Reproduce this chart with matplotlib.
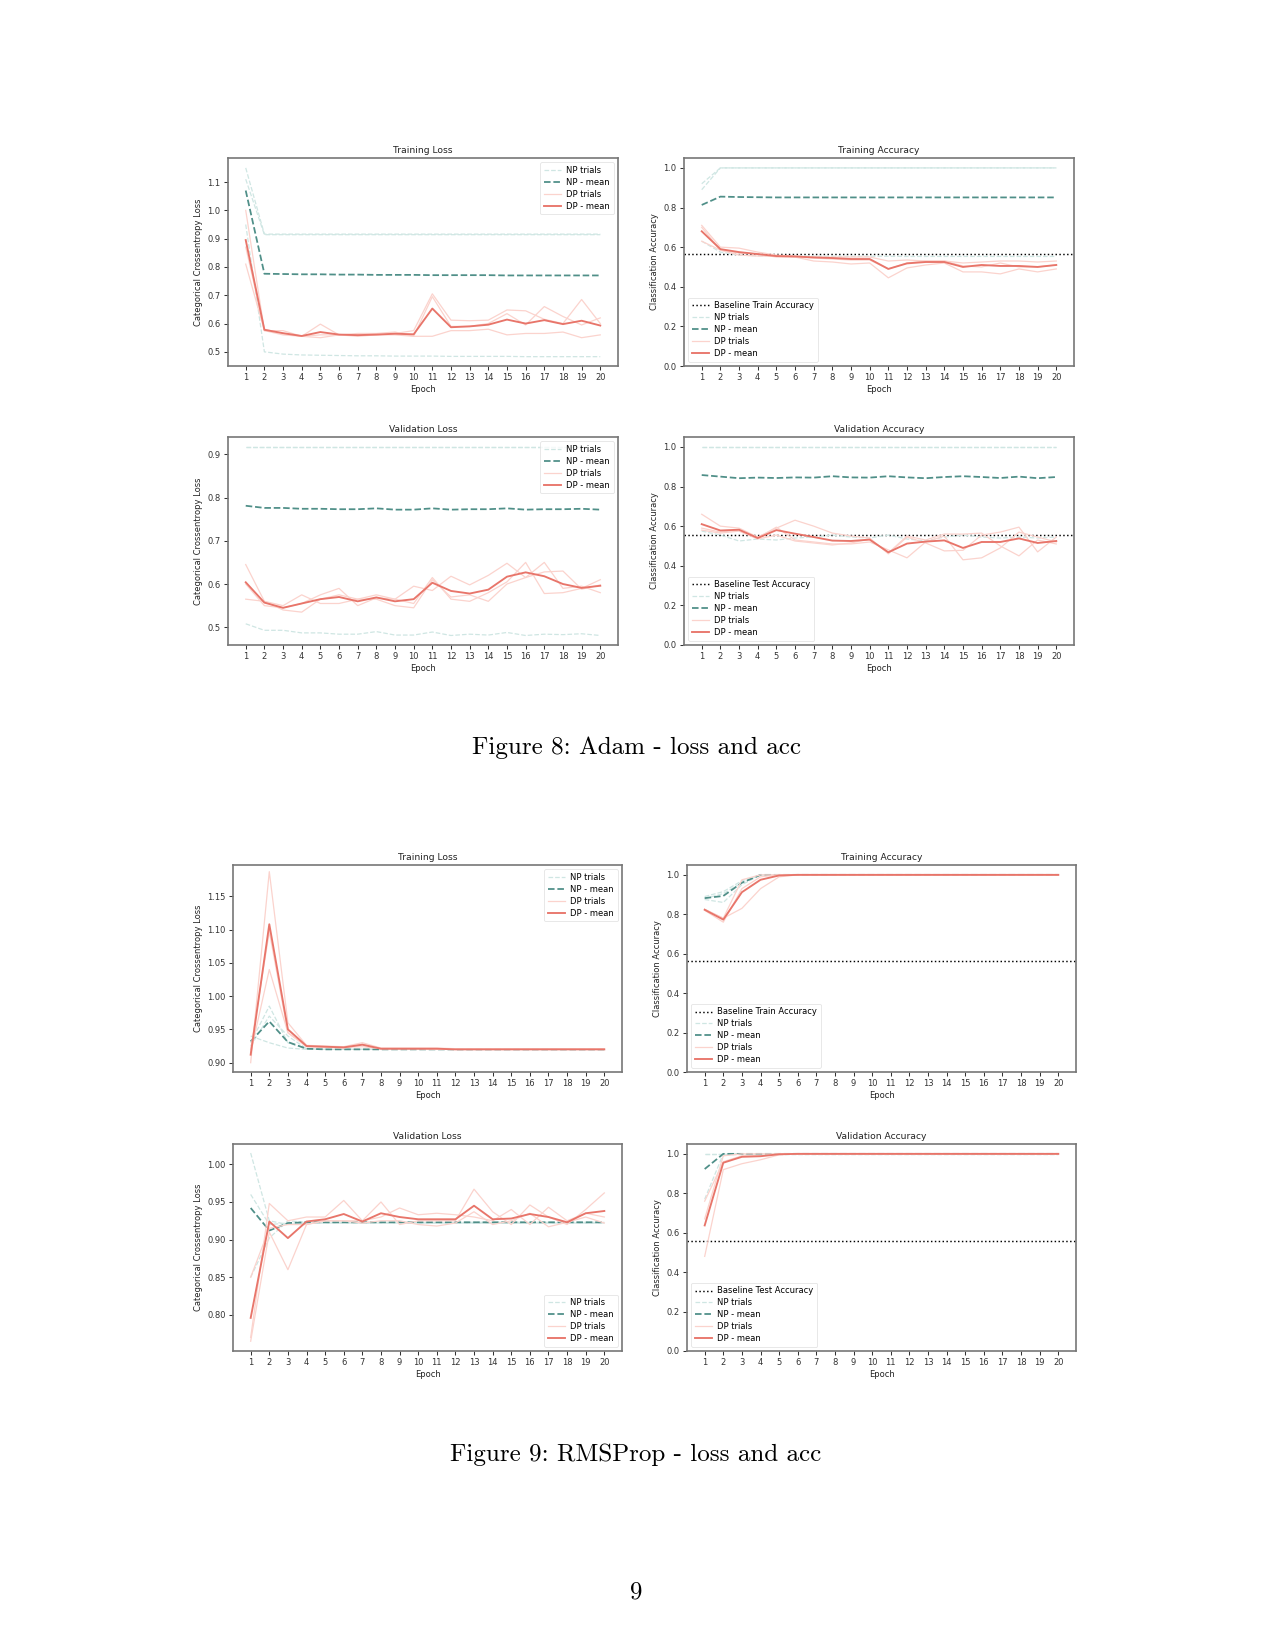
import numpy as np
import matplotlib
matplotlib.use('Agg')
import matplotlib.pyplot as plt

# Paleta
NP_TRIAL = '#cfe6e3'
NP_MEAN = '#4f8f88'
DP_TRIAL = '#fbd3cd'
DP_MEAN = '#e8756a'

epochs = list(range(1, 21))

# ---------------- Figure 8 (Adam) ----------------
adam_train_loss_np = [
    [1.15] + [0.916] * 19,
    [1.11] + [0.914] * 19,
    [0.95, 0.500, 0.492, 0.489, 0.488, 0.487, 0.486, 0.486, 0.485, 0.485,
     0.485, 0.484, 0.484, 0.484, 0.484, 0.483, 0.483, 0.483, 0.483, 0.483],
]
adam_train_loss_np_mean = [1.07, 0.776, 0.775, 0.774, 0.774, 0.773, 0.773, 0.772, 0.772, 0.772,
                           0.771, 0.771, 0.771, 0.771, 0.770, 0.770, 0.770, 0.770, 0.770, 0.770]
adam_train_loss_dp = [
    [1.00, 0.575, 0.575, 0.555, 0.598, 0.560, 0.555, 0.560, 0.565, 0.575,
     0.705, 0.612, 0.610, 0.612, 0.648, 0.645, 0.615, 0.600, 0.685, 0.600],
    [0.87, 0.580, 0.565, 0.555, 0.560, 0.560, 0.565, 0.565, 0.570, 0.555,
     0.695, 0.590, 0.590, 0.600, 0.635, 0.595, 0.660, 0.625, 0.595, 0.620],
    [0.81, 0.575, 0.560, 0.555, 0.550, 0.560, 0.560, 0.560, 0.560, 0.555,
     0.555, 0.575, 0.575, 0.580, 0.560, 0.565, 0.565, 0.570, 0.550, 0.560],
]
adam_train_loss_dp_mean = [0.895, 0.578, 0.566, 0.556, 0.570, 0.561, 0.559, 0.561, 0.564, 0.562,
                           0.653, 0.587, 0.590, 0.596, 0.614, 0.600, 0.612, 0.598, 0.610, 0.593]

adam_train_acc_np = [
    [0.89] + [1.0] * 19,
    [0.92] + [1.0] * 19,
    [0.63, 0.575, 0.560, 0.556, 0.555, 0.555, 0.554, 0.554, 0.554, 0.554,
     0.554, 0.553, 0.553, 0.553, 0.553, 0.553, 0.553, 0.553, 0.553, 0.553],
]
adam_train_acc_np_mean = [0.813, 0.855, 0.853, 0.852, 0.851, 0.851, 0.851, 0.851, 0.851, 0.851,
                          0.851, 0.851, 0.851, 0.851, 0.851, 0.851, 0.851, 0.851, 0.851, 0.851]
adam_train_acc_dp = [
    [0.71, 0.600, 0.595, 0.575, 0.560, 0.555, 0.550, 0.550, 0.550, 0.550,
     0.530, 0.535, 0.530, 0.530, 0.520, 0.525, 0.530, 0.530, 0.525, 0.530],
    [0.70, 0.585, 0.570, 0.565, 0.550, 0.550, 0.545, 0.540, 0.535, 0.535,
     0.490, 0.520, 0.530, 0.530, 0.505, 0.500, 0.520, 0.500, 0.500, 0.510],
    [0.63, 0.585, 0.560, 0.555, 0.555, 0.550, 0.530, 0.525, 0.515, 0.520,
     0.445, 0.495, 0.510, 0.520, 0.475, 0.475, 0.465, 0.490, 0.475, 0.490],
]
adam_train_acc_dp_mean = [0.680, 0.590, 0.575, 0.565, 0.555, 0.553, 0.548, 0.545, 0.540, 0.540,
                          0.490, 0.518, 0.525, 0.525, 0.500, 0.510, 0.505, 0.505, 0.500, 0.510]

adam_val_loss_np = [
    [0.918] * 20,
    [0.917] * 20,
    [0.508, 0.493, 0.493, 0.487, 0.487, 0.484, 0.484, 0.490, 0.482, 0.482,
     0.489, 0.481, 0.484, 0.482, 0.488, 0.481, 0.484, 0.483, 0.485, 0.481],
]
adam_val_loss_np_mean = [0.781, 0.776, 0.776, 0.774, 0.774, 0.773, 0.773, 0.775, 0.772, 0.772,
                         0.775, 0.772, 0.773, 0.773, 0.775, 0.772, 0.773, 0.773, 0.774, 0.772]
adam_val_loss_dp = [
    [0.645, 0.560, 0.540, 0.535, 0.565, 0.575, 0.565, 0.575, 0.565, 0.555,
     0.615, 0.565, 0.560, 0.580, 0.605, 0.650, 0.578, 0.580, 0.590, 0.610],
    [0.565, 0.560, 0.550, 0.575, 0.555, 0.555, 0.565, 0.565, 0.550, 0.545,
     0.610, 0.570, 0.575, 0.560, 0.600, 0.615, 0.650, 0.590, 0.595, 0.580],
    [0.600, 0.550, 0.545, 0.555, 0.575, 0.590, 0.550, 0.568, 0.565, 0.595,
     0.585, 0.618, 0.598, 0.620, 0.648, 0.615, 0.628, 0.630, 0.588, 0.598],
]
adam_val_loss_dp_mean = [0.604, 0.557, 0.545, 0.555, 0.565, 0.570, 0.560, 0.569, 0.560, 0.565,
                         0.603, 0.584, 0.578, 0.587, 0.617, 0.627, 0.618, 0.600, 0.591, 0.596]

adam_val_acc_np = [
    [1.0] * 20,
    [1.0] * 20,
    [0.575, 0.555, 0.525, 0.535, 0.530, 0.540, 0.545, 0.555, 0.545, 0.540,
     0.555, 0.535, 0.525, 0.545, 0.555, 0.545, 0.540, 0.545, 0.540, 0.545],
]
adam_val_acc_np_mean = [0.858, 0.850, 0.842, 0.845, 0.843, 0.846, 0.845, 0.852, 0.846, 0.845,
                        0.852, 0.846, 0.842, 0.848, 0.852, 0.848, 0.843, 0.850, 0.842, 0.848]
adam_val_acc_dp = [
    [0.660, 0.600, 0.590, 0.545, 0.590, 0.630, 0.600, 0.565, 0.550, 0.540,
     0.460, 0.545, 0.515, 0.475, 0.478, 0.555, 0.570, 0.595, 0.470, 0.545],
    [0.590, 0.570, 0.580, 0.540, 0.595, 0.530, 0.520, 0.510, 0.510, 0.520,
     0.480, 0.440, 0.520, 0.550, 0.430, 0.440, 0.490, 0.570, 0.545, 0.520],
    [0.580, 0.565, 0.575, 0.535, 0.555, 0.525, 0.515, 0.505, 0.515, 0.535,
     0.465, 0.550, 0.530, 0.560, 0.560, 0.565, 0.500, 0.450, 0.530, 0.510],
]
adam_val_acc_dp_mean = [0.610, 0.578, 0.582, 0.540, 0.580, 0.562, 0.545, 0.527, 0.525, 0.532,
                        0.468, 0.512, 0.522, 0.528, 0.490, 0.520, 0.520, 0.538, 0.515, 0.525]

# ---------------- Figure 9 (RMSProp) ----------------
rms_train_loss_np = [
    [0.940, 0.930, 0.922, 0.920] + [0.920] * 16,
    [0.930, 0.985, 0.930, 0.921] + [0.920] * 16,
    [0.925, 0.970, 0.940, 0.921] + [0.920] * 16,
]
rms_train_loss_np_mean = [0.932, 0.962, 0.931, 0.921] + [0.920] * 16
rms_train_loss_dp = [
    [0.900, 1.187, 0.960, 0.926, 0.925, 0.924, 0.930, 0.922, 0.922, 0.922,
     0.922, 0.921, 0.921, 0.921, 0.921, 0.921, 0.921, 0.921, 0.921, 0.921],
    [0.915, 1.040, 0.945, 0.924, 0.923, 0.922, 0.928, 0.921, 0.921, 0.921,
     0.921, 0.920, 0.920, 0.920, 0.920, 0.920, 0.920, 0.920, 0.920, 0.920],
    [0.920, 1.097, 0.945, 0.925, 0.924, 0.923, 0.924, 0.921, 0.921, 0.921,
     0.920, 0.920, 0.920, 0.920, 0.920, 0.920, 0.920, 0.920, 0.920, 0.920],
]
rms_train_loss_dp_mean = [0.912, 1.108, 0.950, 0.925, 0.924, 0.923, 0.927, 0.921, 0.921, 0.921,
                          0.921, 0.920, 0.920, 0.920, 0.920, 0.920, 0.920, 0.920, 0.920, 0.920]

rms_train_acc_np = [
    [0.890, 0.915, 0.970] + [1.0] * 17,
    [0.875, 0.860, 0.950] + [1.0] * 17,
    [0.880, 0.905, 0.960] + [1.0] * 17,
]
rms_train_acc_np_mean = [0.882, 0.893, 0.960] + [1.0] * 17
rms_train_acc_dp = [
    [0.820, 0.760, 0.930, 0.990] + [1.0] * 16,
    [0.825, 0.780, 0.830, 0.930, 0.990] + [1.0] * 15,
    [0.825, 0.780, 0.975] + [1.0] * 17,
]
rms_train_acc_dp_mean = [0.823, 0.773, 0.912, 0.975, 0.997] + [1.0] * 15

rms_val_loss_np = [
    [1.015, 0.925, 0.920, 0.922] + [0.922] * 16,
    [0.960, 0.920, 0.922, 0.922] + [0.922] * 16,
    [0.850, 0.902, 0.925, 0.923] + [0.923] * 16,
]
rms_val_loss_np_mean = [0.942, 0.912, 0.922, 0.923] + [0.923] * 16
rms_val_loss_dp = [
    [0.770, 0.948, 0.925, 0.930, 0.930, 0.952, 0.925, 0.950, 0.920, 0.925,
     0.925, 0.925, 0.967, 0.937, 0.920, 0.946, 0.930, 0.920, 0.940, 0.962],
    [0.765, 0.910, 0.860, 0.920, 0.925, 0.925, 0.925, 0.930, 0.942, 0.933,
     0.935, 0.933, 0.930, 0.925, 0.940, 0.920, 0.943, 0.925, 0.935, 0.930],
    [0.850, 0.915, 0.920, 0.920, 0.925, 0.925, 0.922, 0.925, 0.925, 0.920,
     0.918, 0.922, 0.937, 0.920, 0.925, 0.935, 0.917, 0.923, 0.930, 0.922],
]
rms_val_loss_dp_mean = [0.796, 0.924, 0.902, 0.924, 0.927, 0.934, 0.924, 0.935, 0.930, 0.927,
                        0.927, 0.927, 0.945, 0.927, 0.928, 0.934, 0.930, 0.923, 0.935, 0.938]

rms_val_acc_np = [
    [1.0] * 20,
    [1.0] * 20,
    [0.770] + [1.0] * 19,
]
rms_val_acc_np_mean = [0.923] + [1.0] * 19
rms_val_acc_dp = [
    [0.760, 0.960, 0.990, 0.990] + [1.0] * 16,
    [0.480, 0.920, 0.950, 0.970, 0.995] + [1.0] * 15,
    [0.670, 0.990] + [1.0] * 18,
]
rms_val_acc_dp_mean = [0.637, 0.955, 0.985, 0.988, 0.998] + [1.0] * 15

baseline_train = 0.563
baseline_test = 0.556

W, H = 1275, 1650
fig = plt.figure(figsize=(W / 150, H / 150), dpi=150)
fig.patch.set_facecolor('white')

FS = 4.0


def box(x0, y0, x1, y1):
    return [x0 / W, 1 - y1 / H, (x1 - x0) / W, (y1 - y0) / H]


def panel(rect, title, ylabel, np_trials, np_mean, dp_trials, dp_mean,
          baseline=None, base_label=None, loc='upper right', ylim=None):
    ax = fig.add_axes(rect)
    if baseline is not None:
        ax.axhline(baseline, color='black', ls=':', lw=0.7, label=base_label)
    for i, t in enumerate(np_trials):
        ax.plot(epochs, t, color=NP_TRIAL, ls='--', lw=0.6,
                label='NP trials' if i == 0 else None)
    ax.plot(epochs, np_mean, color=NP_MEAN, ls='--', lw=0.85, label='NP - mean')
    for i, t in enumerate(dp_trials):
        ax.plot(epochs, t, color=DP_TRIAL, lw=0.6,
                label='DP trials' if i == 0 else None)
    ax.plot(epochs, dp_mean, color=DP_MEAN, lw=0.9, label='DP - mean')
    ax.set_xticks(epochs)
    ax.set_xlim(0.05, 20.95)
    if ylim is not None:
        ax.set_ylim(*ylim)
    ax.set_title(title, fontsize=4.4, pad=2.5, color='#222222')
    ax.set_xlabel('Epoch', fontsize=FS, labelpad=1.5, color='#222222')
    ax.set_ylabel(ylabel, fontsize=FS, labelpad=2, color='#222222')
    ax.tick_params(labelsize=FS, length=2, width=0.5, pad=1.5,
                   colors='#333333')
    for s in ax.spines.values():
        s.set_linewidth(0.8)
        s.set_color('#777777')
    leg = ax.legend(loc=loc, fontsize=FS, handlelength=2.0, handletextpad=0.7,
                    borderpad=0.45, labelspacing=0.35, framealpha=0.8)
    leg.get_frame().set_linewidth(0.4)
    leg.get_frame().set_edgecolor('#dddddd')
    return ax


LOSS = 'Categorical Crossentropy Loss'
ACC = 'Classification Accuracy'

# Figure 8
panel(box(228, 158, 618, 366), 'Training Loss', LOSS,
      adam_train_loss_np, adam_train_loss_np_mean,
      adam_train_loss_dp, adam_train_loss_dp_mean, ylim=(0.450, 1.185))
panel(box(684, 158, 1074, 366), 'Training Accuracy', ACC,
      adam_train_acc_np, adam_train_acc_np_mean,
      adam_train_acc_dp, adam_train_acc_dp_mean,
      baseline_train, 'Baseline Train Accuracy', loc='lower left', ylim=(0, 1.05))
panel(box(228, 437, 618, 645), 'Validation Loss', LOSS,
      adam_val_loss_np, adam_val_loss_np_mean,
      adam_val_loss_dp, adam_val_loss_dp_mean, ylim=(0.459, 0.940))
panel(box(684, 437, 1074, 645), 'Validation Accuracy', ACC,
      adam_val_acc_np, adam_val_acc_np_mean,
      adam_val_acc_dp, adam_val_acc_dp_mean,
      baseline_test, 'Baseline Test Accuracy', loc='lower left', ylim=(0, 1.05))

# Figure 9
panel(box(233, 865, 622, 1072), 'Training Loss', LOSS,
      rms_train_loss_np, rms_train_loss_np_mean,
      rms_train_loss_dp, rms_train_loss_dp_mean, ylim=(0.886, 1.197))
panel(box(687, 865, 1076, 1072), 'Training Accuracy', ACC,
      rms_train_acc_np, rms_train_acc_np_mean,
      rms_train_acc_dp, rms_train_acc_dp_mean,
      baseline_train, 'Baseline Train Accuracy', loc='lower left', ylim=(0, 1.05))
panel(box(233, 1144, 622, 1351), 'Validation Loss', LOSS,
      rms_val_loss_np, rms_val_loss_np_mean,
      rms_val_loss_dp, rms_val_loss_dp_mean, loc='lower right', ylim=(0.752, 1.027))
panel(box(687, 1144, 1076, 1351), 'Validation Accuracy', ACC,
      rms_val_acc_np, rms_val_acc_np_mean,
      rms_val_acc_dp, rms_val_acc_dp_mean,
      baseline_test, 'Baseline Test Accuracy', loc='lower left', ylim=(0, 1.05))

# Legendas das figuras (estilo LaTeX)
cap = dict(ha='center', va='center', fontsize=12, family='cmr10', color='black')
fig.text(636 / W, 1 - 748 / H, 'Figure 8: Adam - loss and acc', **cap)
fig.text(636 / W, 1 - 1455 / H, 'Figure 9: RMSProp - loss and acc', **cap)
fig.text(636 / W, 1 - 1592 / H, '9', **cap)

fig.savefig('out.png', dpi=150)
